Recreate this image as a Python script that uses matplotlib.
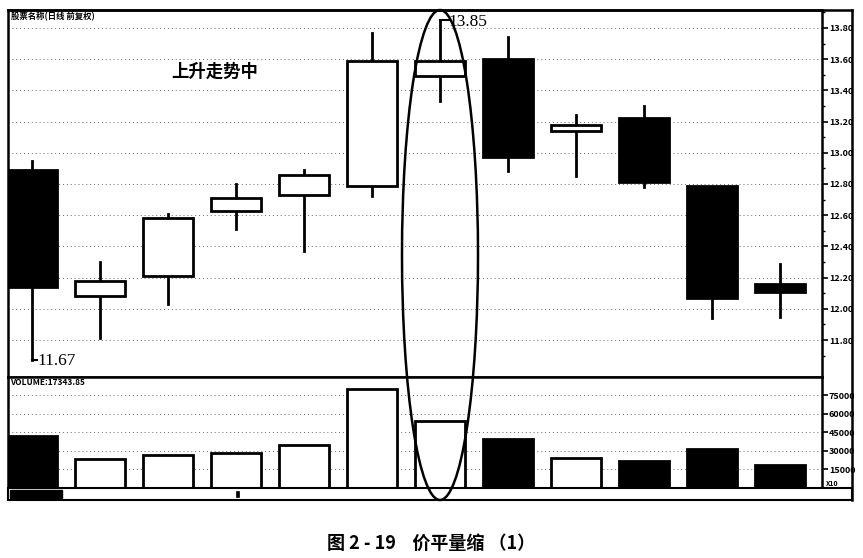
import matplotlib
matplotlib.use('Agg')
from matplotlib import pyplot as plt
from matplotlib.patches import Ellipse, Rectangle
from matplotlib.lines import Line2D
import numpy as np

plt.rcParams['font.family'] = ['Noto Sans CJK SC', 'DejaVu Sans']

# candle data
opens  = [12.89, 12.08, 12.21, 12.63, 12.73, 12.79, 13.49, 13.60, 13.14, 13.22, 12.79, 12.16]
closes = [12.14, 12.18, 12.58, 12.71, 12.86, 13.59, 13.59, 12.97, 13.18, 12.81, 12.07, 12.11]
highs  = [12.95, 12.30, 12.61, 12.80, 12.89, 13.77, 13.85, 13.74, 13.24, 13.30, 12.79, 12.29]
lows   = [11.67, 11.81, 12.03, 12.51, 12.37, 12.72, 13.33, 12.88, 12.85, 12.78, 11.94, 11.95]
volumes = [41750, 23100, 26350, 28000, 34500, 79900, 53900, 39300, 23900, 21500, 31200, 18200]

price_ticks = [11.80, 12.00, 12.20, 12.40, 12.60, 12.80, 13.00, 13.20, 13.40, 13.60, 13.80]
vol_ticks = [15000, 30000, 45000, 60000, 75000]

W, H = 863, 558
fig = plt.figure(figsize=(W / 100, H / 100), dpi=100)

def box(x0, y0, x1, y1):
    # pixel box -> figure fraction rect
    return [x0 / W, 1 - y1 / H, (x1 - x0) / W, (y1 - y0) / H]

ax = fig.add_axes(box(8, 10, 822, 377))
axv = fig.add_axes(box(8, 377, 822, 488), sharex=ax)

x = np.arange(len(opens))
bw = 0.735

for i in x:
    o, c, h, l = opens[i], closes[i], highs[i], lows[i]
    up = c >= o
    top, bot = max(o, c), min(o, c)
    ax.plot([i, i], [top, h], color='black', lw=2, zorder=2)
    ax.plot([i, i], [l, bot], color='black', lw=2, zorder=2)
    ax.add_patch(Rectangle((i - bw / 2, bot), bw, top - bot,
                           facecolor='white' if up else 'black',
                           edgecolor='black', lw=2, zorder=3))
    axv.add_patch(Rectangle((i - bw / 2, 0), bw, volumes[i],
                            facecolor='white' if up else 'black',
                            edgecolor='black', lw=2, zorder=3))

ax.set_xlim(-0.353, 11.62)
ax.set_ylim(11.563, 13.915)
axv.set_ylim(-400, 89600)

for a, ticks in ((ax, price_ticks), (axv, vol_ticks)):
    a.yaxis.tick_right()
    a.set_yticks(ticks)
    a.grid(axis='y', ls=(0, (1, 3)), color='#666666', lw=0.7)
    a.tick_params(axis='y', length=4, width=1.2, labelsize=6.5, pad=1)
    a.tick_params(axis='x', bottom=False, labelbottom=False)
    for s in a.spines.values():
        s.set_linewidth(1.8)
ax.set_yticks(np.arange(11.7, 13.9, 0.1), minor=True)
ax.tick_params(axis='y', which='minor', length=2, width=1)
ax.set_yticklabels([f'{t:.2f}' for t in price_ticks], fontweight='bold')
axv.set_yticklabels([str(t) for t in vol_ticks], fontweight='bold')

ax.text(0.004, 0.995, '股票名称(日线 前复权)', transform=ax.transAxes,
        fontsize=6, fontweight='bold', va='top', ha='left')
axv.text(0.002, 0.99, 'VOLUME:17343.85', transform=axv.transAxes,
         fontsize=6, fontweight='bold', va='top', ha='left')
ax.text(2.05, 13.52, '上升走势中', fontsize=12.5, fontweight='bold', va='center')

ax.plot([0, 0.08], [11.67, 11.67], color='black', lw=1.5)
ax.text(0.08, 11.665, '11.67', family='Liberation Serif', fontsize=12.5, va='center')
ax.plot([6, 6.15], [13.85, 13.85], color='black', lw=1.5)
ax.text(6.13, 13.835, '13.85', family='Liberation Serif', fontsize=12.5, va='center')

# right label column and bottom strip
fig.add_artist(Line2D([852 / W, 852 / W], [1 - 10 / H, 1 - 500 / H], color='black', lw=1.8))
fig.add_artist(Line2D([8 / W, 852 / W], [1 - 10 / H, 1 - 10 / H], color='black', lw=1.8))
fig.add_artist(Rectangle((8 / W, 1 - 500 / H), 844 / W, 12 / H, transform=fig.transFigure,
                         facecolor='white', edgecolor='black', lw=1.5))
fig.add_artist(Rectangle((10 / W, 1 - 498 / H), 52 / W, 8 / H, transform=fig.transFigure,
                         facecolor='black', edgecolor='black', lw=1))
fig.add_artist(Rectangle((236 / W, 1 - 497 / H), 3 / W, 6 / H, transform=fig.transFigure,
                         facecolor='black', edgecolor='black', lw=0.5))
fig.text(826 / W, 1 - 484 / H, 'X10', fontsize=5, fontweight='bold', va='center')

# highlight ellipse around the 7th candle
fig.add_artist(Ellipse((440 / W, 1 - 255 / H), 76 / W, 490 / H, transform=fig.transFigure,
                       fill=False, edgecolor='black', lw=1.8, zorder=10))

fig.text(431 / W, 1 - 543 / H, '图 2 - 19    价平量缩 （1）', ha='center', va='center',
         fontsize=13, fontweight='bold')

fig.savefig('out.png', dpi=100)
